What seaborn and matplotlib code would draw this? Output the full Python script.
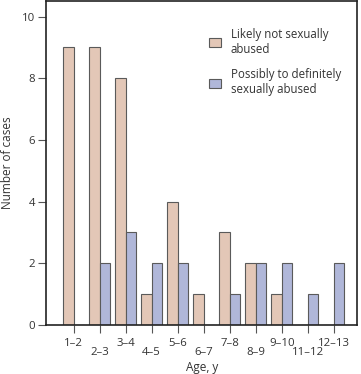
import pandas as pd
import seaborn as sns
from matplotlib import pyplot as plt
from matplotlib.transforms import ScaledTranslation

# Age groups (10-11 is not in the chart)
ages = ['1–2', '2–3', '3–4', '4–5', '5–6', '6–7', '7–8', '8–9', '9–10', '11–12', '12–13']
not_abused = [9, 9, 8, 1, 4, 1, 3, 2, 1, 0, 0]
abused = [0, 2, 3, 2, 2, 0, 1, 2, 2, 1, 2]
groups = ['Likely not sexually\nabused', 'Possibly to definitely\nsexually abused']

df = pd.DataFrame({
    'age': ages * 2,
    'cases': not_abused + abused,
    'group': [groups[0]] * len(ages) + [groups[1]] * len(ages),
})

sns.set_style('white')
plt.rcParams['font.family'] = ['Open Sans', 'DejaVu Sans']

fig = plt.figure(figsize=(3.61, 3.74), dpi=100)
ax = fig.add_axes([0.128, 0.131, 0.862, 0.866])

sns.barplot(data=df, x='age', y='cases', hue='group', order=ages,
            palette=['#EBC5AF', '#A9B3E0'], edgecolor='#5a5a5a', linewidth=0.8,
            width=0.8, ax=ax)

ax.set_ylim(0, 10.5)
ax.set_xlim(-1.05, len(ages) - 0.1)
ax.set_yticks([0, 2, 4, 6, 8, 10])
ax.tick_params(axis='both', direction='out', length=6, width=0.8, color='#555555',
               labelsize=8.2, labelcolor='#333333', pad=2, bottom=True, left=True)
ax.tick_params(axis='x', pad=3)

# stagger the age labels
for i, lab in enumerate(ax.get_xticklabels()):
    if i % 2 == 1:
        lab.set_transform(lab.get_transform() + ScaledTranslation(0, -9 / 100, fig.dpi_scale_trans))

for s in ax.spines.values():
    s.set_visible(True)
    s.set_color('#222222')
    s.set_linewidth(1.2)

ax.set_xlabel('Age, y', fontsize=8.5, color='#333333')
ax.xaxis.set_label_coords(0.5, -0.112)
ax.set_ylabel('Number of cases', fontsize=8.5, color='#333333', labelpad=6)

ax.legend(title=None, frameon=False, fontsize=8.3, loc='upper left',
          bbox_to_anchor=(0.49, 0.95), handlelength=1.0, handleheight=0.9,
          handletextpad=0.9, labelspacing=1.1, labelcolor='#333333')

plt.savefig('out.png', dpi=100)
